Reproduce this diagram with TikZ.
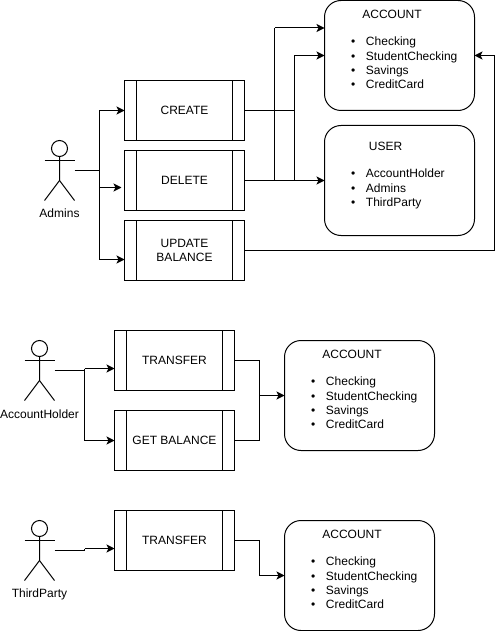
\documentclass[tikz,border=0pt]{standalone}
\usepackage{fontspec}
\setmainfont{Liberation Sans}
\usetikzlibrary{arrows.meta}
\newcommand{\actorfig}[3]{%
  \node[actorbox] (#1) at (#2,#3) {};
  \draw (#1.north) ++(0,8) circle[radius=8pt];
  \draw (#1.north) ++(0,16) -- ++(0,24) -- (#1.south west);
  \draw (#1.north) ++(0,40) -- (#1.south east);
  \draw (#1.north west) ++(0,20) -- ++(30,0);
}
\newcommand{\itemline}[1]{\makebox[15pt][l]{•}#1\\}
\tikzset{
  x=1pt,y=-1pt,
  every node/.style={font=\fontsize{12}{14.4}\selectfont,inner sep=0pt,outer sep=0pt},
  actorbox/.style={minimum width=30pt,minimum height=60pt},
  procbox/.style={draw,line width=1pt,minimum width=120pt,minimum height=60pt,align=center,
    path picture={
      \draw[line width=1pt] ([xshift=12pt]path picture bounding box.north west) -- ([xshift=12pt]path picture bounding box.south west);
      \draw[line width=1pt] ([xshift=-12pt]path picture bounding box.north east) -- ([xshift=-12pt]path picture bounding box.south east);
    }},
  groupbox/.style={draw,line width=1pt,rounded corners=16.5pt,minimum width=150pt,minimum height=110pt},
  listtext/.style={anchor=north west,align=left},
  conn/.style={line width=1pt,-{Stealth[length=8pt,width=8pt,inset=2pt]}},
  plainconn/.style={line width=1pt},
}
\begin{document}
\begin{tikzpicture}[line width=1pt]
\useasboundingbox (0,0) rectangle (503,631);

% top group
\actorfig{admins}{59.5}{170.5}
\node (adminslabel) at (59.5,213) {Admins};
\node[procbox] (create) at (184.5,110.5) {CREATE};
\node[procbox] (delete) at (184.5,180.5) {DELETE};
\node[procbox] (update) at (184.5,250.5) {UPDATE\\BALANCE};
\node[groupbox] (account) at (399.5,55.5) {};
\node[groupbox] (user) at (399.5,180.5) {};
\node (accounttitle) at (392,14.5) {ACCOUNT};
\node[listtext] (accountlist) at (351,37) {\itemline{Checking}\itemline{StudentChecking}\itemline{Savings}\itemline{CreditCard}};
\node (usertitle) at (385.5,146.5) {USER};
\node[listtext] (userlist) at (351,169) {\itemline{AccountHolder}\itemline{Admins}\itemline{ThirdParty}};

\coordinate (jadmins) at (99.5,170.5);
\draw[plainconn] (admins.east) -- (jadmins);
\draw[conn] (jadmins) |- (create.west);
\draw[conn] (jadmins) |- ([xshift=-3pt,yshift=-7pt]delete.west);
\draw[conn] (jadmins) |- ([yshift=-9pt]update.west);

\coordinate (vone) at (274.5,28);
\coordinate (vtwo) at (294.5,55.5);
\draw[plainconn] (create.east) -| (vtwo);
\draw[conn] (delete.east) -- (user.west);
\draw[plainconn] (274.5,180.5) -- (vone);
\draw[plainconn] (294.5,180.5) -- (vtwo);
\draw[conn] (vone) -- (324.5,28);
\draw[conn] (vtwo) -- (account.west);
\coordinate (vthree) at (494.5,250.5);
\draw[conn] (update.east) -- (vthree) |- (account.east);

% account holder group
\actorfig{holder}{39.5}{370.5}
\node (holderlabel) at (39.5,414) {AccountHolder};
\node[procbox] (transferA) at (174.5,360.5) {TRANSFER};
\node[procbox] (balance) at (174.5,440.5) {GET BALANCE};
\node[groupbox] (accountA) at (359.5,395.5) {};
\node (accountAtitle) at (352,354.5) {ACCOUNT};
\node[listtext] (accountAlist) at (311,377) {\itemline{Checking}\itemline{StudentChecking}\itemline{Savings}\itemline{CreditCard}};
\coordinate (jholder) at (84.5,370.5);
\coordinate (jholderb) at (84.5,368.5);
\draw[plainconn] (holder.east) -- (jholder);
\draw[conn] (jholderb) -- ([yshift=-8pt]transferA.west);
\draw[conn] (jholderb) |- (balance.west);
\coordinate (jout) at (259.5,395.5);
\draw[plainconn] (transferA.east) -| (jout);
\draw[plainconn] (balance.east) -| (jout);
\draw[conn] (jout) -- (accountA.west);

% third party group
\actorfig{third}{39.5}{550.5}
\node (thirdlabel) at (39.5,594) {ThirdParty};
\node[procbox] (transferB) at (174.5,540.5) {TRANSFER};
\node[groupbox] (accountB) at (359.5,575.5) {};
\node (accountBtitle) at (352,534.5) {ACCOUNT};
\node[listtext] (accountBlist) at (311,557) {\itemline{Checking}\itemline{StudentChecking}\itemline{Savings}\itemline{CreditCard}};
\coordinate (jthird) at (84.5,550.5);
\coordinate (jthirdb) at (84.5,548.5);
\draw[plainconn] (third.east) -- (jthird) -- (jthirdb);
\draw[conn] (jthirdb) -- ([yshift=-8pt]transferB.west);
\coordinate (joutb) at (259.5,540.5);
\draw[conn] (transferB.east) -- (joutb) |- (accountB.west);
\end{tikzpicture}
\end{document}
